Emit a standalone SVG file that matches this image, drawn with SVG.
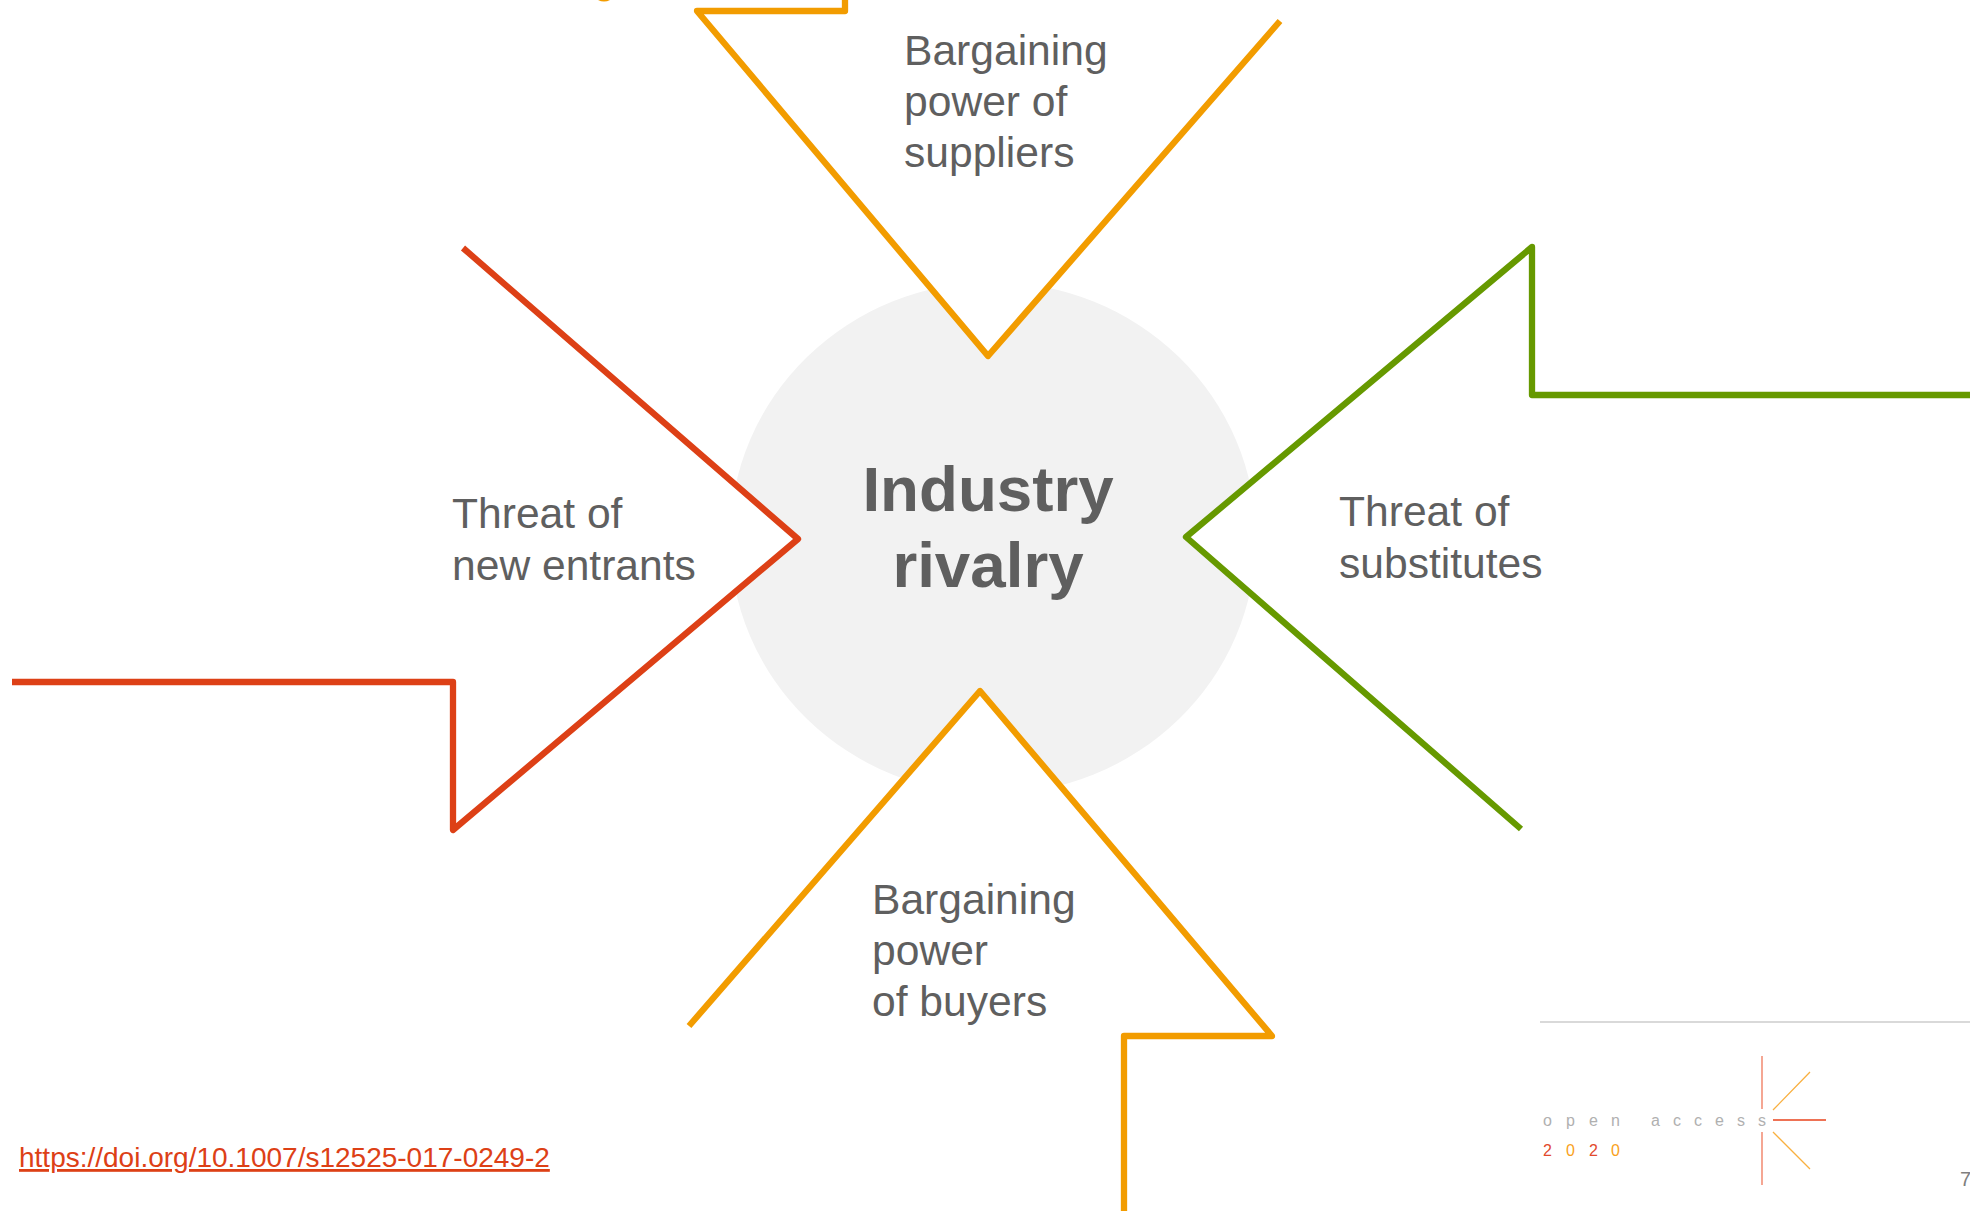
<svg xmlns="http://www.w3.org/2000/svg" width="1970" height="1211" viewBox="0 0 1970 1211">
<style>
text{font-family:"Liberation Sans",Arial,sans-serif}
.l{font-size:42.6px;fill:#5f5f5f}
.t{font-size:63.7px;font-weight:bold;fill:#5f5f5f;text-anchor:middle}
.a{fill:#fff;stroke-width:6.3;stroke-linejoin:round;stroke-linecap:butt}
.o{stroke:#f29c00}.r{stroke:#dd4016}.g{stroke:#669900}
.m{font-size:16px;fill:#b0b0b0}
.n{font-size:16px}
</style>
<rect width="1970" height="1211" fill="#fff"/>
<g id="rivalry">
<ellipse cx="993" cy="538" rx="263" ry="256" fill="#f2f2f2"/>
<text class="t" x="988" y="511">Industry</text>
<text class="t" x="988" y="587">rivalry</text>
</g>
<g id="connectors">
<path class="a o" d="M845 0V11H697L988 356L1280 21"/>
<path d="M598 0H610Q604 3 598 0Z" fill="#f29c00"/>
<path class="a r" d="M463 248L798 539L453 830V682H12"/>
<path class="a g" d="M1970 395H1532V247L1186 537L1521 829"/>
<path class="a o" d="M1124 1211V1036H1272L980 691L689 1026"/>
</g>
<g id="suppliers"><text class="l" x="904" y="65">Bargaining</text><text class="l" x="904" y="116">power of</text><text class="l" x="904" y="167">suppliers</text></g>
<g id="entrants"><text class="l" x="452" y="528">Threat of</text><text class="l" x="452" y="580">new entrants</text></g>
<g id="substitutes"><text class="l" x="1339" y="526">Threat of</text><text class="l" x="1339" y="578">substitutes</text></g>
<g id="buyers"><text class="l" x="872" y="914">Bargaining</text><text class="l" x="872" y="965">power</text><text class="l" x="872" y="1016">of buyers</text></g>
<g id="doi"><text x="19" y="1167" font-size="28" fill="#dd4016" text-decoration="underline">https://doi.org/10.1007/s12525-017-0249-2</text></g>
<g id="footer">
<path d="M1540 1022H1970" stroke="#cccccc" stroke-width="1.3"/>
<text class="m" x="1543" y="1125.5">o</text><text class="m" x="1566" y="1125.5">p</text><text class="m" x="1589" y="1125.5">e</text><text class="m" x="1611" y="1125.5">n</text>
<text class="m" x="1651" y="1125.5">a</text><text class="m" x="1673" y="1125.5">c</text><text class="m" x="1694" y="1125.5">c</text><text class="m" x="1715" y="1125.5">e</text><text class="m" x="1737" y="1125.5">s</text><text class="m" x="1758" y="1125.5">s</text>
<text class="n" x="1543" y="1156" fill="#e2492c">2</text><text class="n" x="1566" y="1156" fill="#f9a11b">0</text><text class="n" x="1589" y="1156" fill="#e2492c">2</text><text class="n" x="1611" y="1156" fill="#f9a11b">0</text>
<g fill="none" stroke-width="1.3">
<path d="M1762 1056V1109M1762 1132V1185" stroke="#f0785a"/>
<path d="M1773 1110L1810 1072M1773 1132L1810 1169" stroke="#f9b040"/>
<path d="M1773 1120H1826" stroke="#e8431c"/>
</g>
<text x="1960" y="1186" font-size="20" fill="#7f7f7f">7</text>
</g>
</svg>
